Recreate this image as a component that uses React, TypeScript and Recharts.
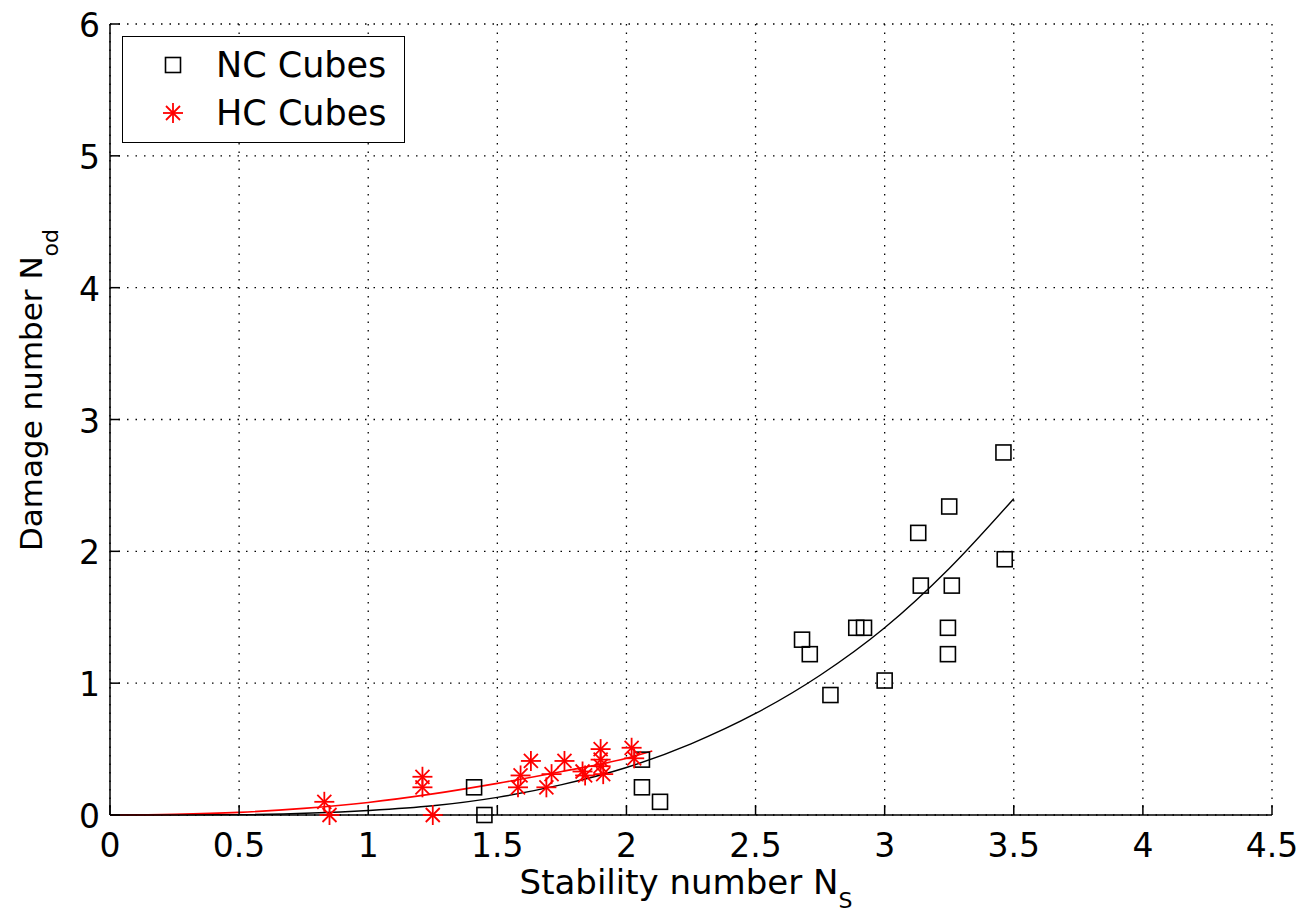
import React from "react";
import { ComposedChart, Scatter, Line, XAxis, YAxis, CartesianGrid, Legend } from "recharts";

// NC cubes (black squares)
const ncX = [1.41, 1.45, 2.06, 2.06, 2.13, 2.68, 2.71, 2.79, 2.89, 2.92, 3.0, 3.13, 3.14, 3.25, 3.26, 3.245, 3.245, 3.46, 3.465];
const ncY = [0.21, 0.0, 0.42, 0.21, 0.1, 1.33, 1.22, 0.91, 1.42, 1.42, 1.02, 2.14, 1.74, 2.34, 1.74, 1.42, 1.22, 2.75, 1.94];

// HC cubes (red stars)
const hcX = [0.83, 0.85, 1.21, 1.21, 1.25, 1.58, 1.59, 1.63, 1.69, 1.71, 1.76, 1.83, 1.84, 1.9, 1.9, 1.9, 1.91, 2.02, 2.03];
const hcY = [0.1, 0.0, 0.29, 0.21, 0.0, 0.21, 0.3, 0.41, 0.21, 0.31, 0.41, 0.33, 0.3, 0.5, 0.42, 0.37, 0.31, 0.51, 0.43];

// fitted curves
const ncFitX = [0, 0.5, 1, 1.25, 1.5, 1.75, 2, 2.25, 2.5, 2.75, 3, 3.25, 3.5];
const ncFitY = [0, 0.003, 0.034, 0.07, 0.134, 0.23, 0.36, 0.54, 0.77, 1.06, 1.42, 1.87, 2.4];
const hcFitX = [0, 0.25, 0.5, 0.75, 1, 1.25, 1.5, 1.75, 2, 2.1];
const hcFitY = [0, 0.005, 0.02, 0.05, 0.095, 0.16, 0.24, 0.33, 0.43, 0.485];

const xTicks = [0, 0.5, 1, 1.5, 2, 2.5, 3, 3.5, 4, 4.5];
const yTicks = [0, 1, 2, 3, 4, 5, 6];
const seriesNames = ["NC Cubes", "HC Cubes"];

const FONT = "'DejaVu Sans', sans-serif";

const toPoints = (xs: number[], ys: number[]) => xs.map((x, i) => ({ x, y: ys[i] }));

function SquareMark(props: any) {
  const { cx, cy } = props;
  return <rect x={cx - 7.5} y={cy - 7.5} width={15} height={15} fill="none" stroke="#000" strokeWidth={1.6} />;
}

function StarMark(props: any) {
  const { cx, cy } = props;
  const r = 10;
  const d = 7;
  return (
    <g stroke="#ff0000" strokeWidth={1.8}>
      <line x1={cx - r} y1={cy} x2={cx + r} y2={cy} />
      <line x1={cx} y1={cy - r} x2={cx} y2={cy + r} />
      <line x1={cx - d} y1={cy - d} x2={cx + d} y2={cy + d} />
      <line x1={cx - d} y1={cy + d} x2={cx + d} y2={cy - d} />
    </g>
  );
}

const XTick = (props: any) => (
  <text x={props.x} y={857} textAnchor="middle" fontFamily={FONT} fontSize={33} fill="#000">
    {props.payload.value}
  </text>
);

const YTick = (props: any) => (
  <text x={100} y={props.y + 13} textAnchor="end" fontFamily={FONT} fontSize={33} fill="#000">
    {props.payload.value}
  </text>
);

const NoTick = () => <g />;

const XLabel = () => (
  <text x={686} y={894} textAnchor="middle" fontFamily={FONT} fontSize={34} fill="#000">
    Stability number N
    <tspan fontSize={22} dy={14}>S</tspan>
  </text>
);

const YLabel = () => (
  <text
    x={42}
    y={390}
    transform="rotate(-90, 42, 390)"
    textAnchor="middle"
    fontFamily={FONT}
    fontSize={31}
    fill="#000"
  >
    Damage number N
    <tspan fontSize={22} dy={16}>od</tspan>
  </text>
);

function LegendBox() {
  return (
    <div
      style={{
        width: 283,
        height: 107,
        boxSizing: "border-box",
        border: "1.5px solid #000",
        background: "#fff",
        fontFamily: FONT,
        fontSize: 35,
        position: "relative",
      }}
    >
      {seriesNames.map((name, i) => (
        <div key={name} style={{ position: "absolute", left: 0, top: i === 0 ? 5 : 53, height: 46, width: "100%" }}>
          <svg width={30} height={30} style={{ position: "absolute", left: 35, top: 8 }}>
            {i === 0 ? <SquareMark cx={15} cy={15} /> : <StarMark cx={15} cy={15} />}
          </svg>
          <span style={{ position: "absolute", left: 93, top: 0, lineHeight: "46px", whiteSpace: "nowrap" }}>{name}</span>
        </div>
      ))}
    </div>
  );
}

export default function App() {
  return (
    <div style={{ position: "absolute", left: 0, top: 0, width: 1301, height: 916, background: "#fff" }}>
      <ComposedChart width={1301} height={916} margin={{ top: 24, right: 29, bottom: 0, left: 0 }}>
        <CartesianGrid stroke="#000" strokeDasharray="1.5 7" strokeWidth={1.3} />
        <XAxis
          type="number"
          dataKey="x"
          domain={[0, 4.5]}
          ticks={xTicks}
          height={101}
          tickSize={-10}
          tick={XTick}
          axisLine={{ stroke: "#000", strokeWidth: 1.5 }}
          tickLine={{ stroke: "#000", strokeWidth: 1.5 }}
          label={XLabel}
        />
        <XAxis
          xAxisId="top"
          orientation="top"
          type="number"
          dataKey="x"
          domain={[0, 4.5]}
          ticks={xTicks}
          height={0}
          tickSize={-10}
          tick={NoTick}
          axisLine={{ stroke: "#000", strokeWidth: 1.5 }}
          tickLine={{ stroke: "#000", strokeWidth: 1.5 }}
        />
        <YAxis
          type="number"
          dataKey="y"
          domain={[0, 6]}
          ticks={yTicks}
          width={110}
          tickSize={-10}
          tick={YTick}
          axisLine={{ stroke: "#000", strokeWidth: 1.5 }}
          tickLine={{ stroke: "#000", strokeWidth: 1.5 }}
          label={YLabel}
        />
        <YAxis
          yAxisId="right"
          orientation="right"
          type="number"
          dataKey="y"
          domain={[0, 6]}
          ticks={yTicks}
          width={0}
          tickSize={-10}
          tick={NoTick}
          axisLine={{ stroke: "#000", strokeWidth: 1.5 }}
          tickLine={{ stroke: "#000", strokeWidth: 1.5 }}
        />
        <Legend
          layout="horizontal"
          verticalAlign="middle"
          align="center"
          wrapperStyle={{ left: 122, top: 36, width: 283 }}
          content={() => <LegendBox />}
        />
        <Line
          data={toPoints(ncFitX, ncFitY)}
          dataKey="y"
          type="monotone"
          stroke="#000"
          strokeWidth={1.4}
          dot={false}
          activeDot={false}
          legendType="none"
          isAnimationActive={false}
        />
        <Line
          data={toPoints(hcFitX, hcFitY)}
          dataKey="y"
          type="monotone"
          stroke="#ff0000"
          strokeWidth={1.6}
          dot={false}
          activeDot={false}
          legendType="none"
          isAnimationActive={false}
        />
        <Scatter name={seriesNames[0]} data={toPoints(ncX, ncY)} shape={SquareMark} isAnimationActive={false} />
        <Scatter name={seriesNames[1]} data={toPoints(hcX, hcY)} shape={StarMark} isAnimationActive={false} />
      </ComposedChart>
    </div>
  );
}
